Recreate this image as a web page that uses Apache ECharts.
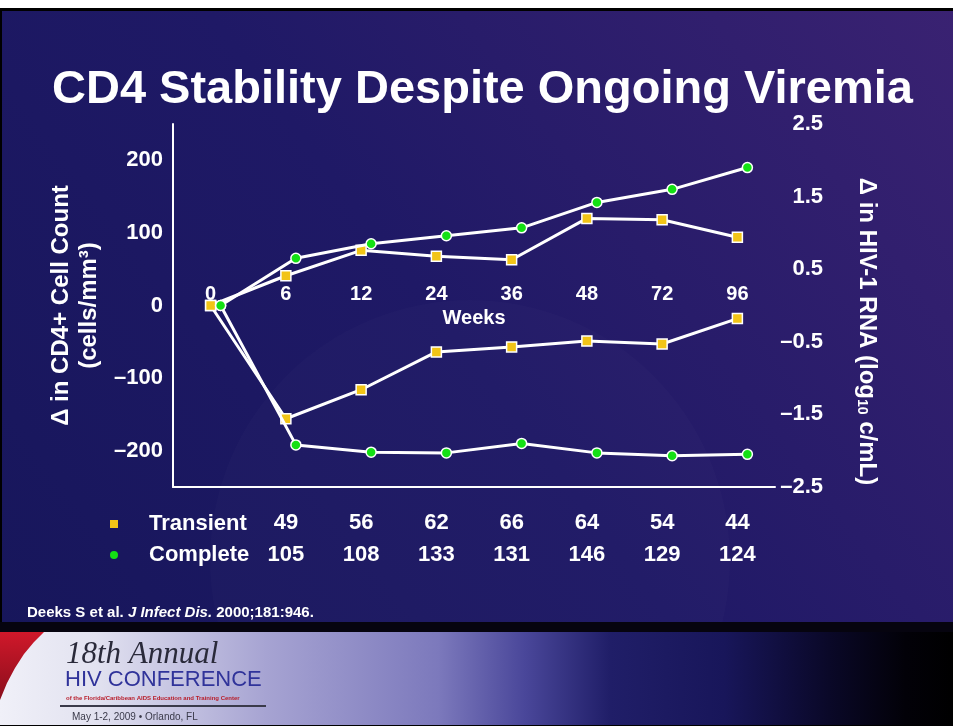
<!DOCTYPE html>
<html>
<head>
<meta charset="utf-8">
<script src="https://cdn.jsdelivr.net/npm/echarts@6/dist/echarts.min.js"></script>
<style>
  html, body { margin: 0; padding: 0; background: #ffffff; }
  #chart { width: 953px; height: 726px; }
</style>
</head>
<body>
<div id="chart"></div>
<script>
// Study visits (weeks) shown on the category axis
const weeks = ['0', '6', '12', '24', '36', '48', '72', '96'];

// Change in CD4+ cell count (cells/mm3), left axis
const transientCD4 = [0, 41, 76, 68, 63, 120, 118, 94];
const completeCD4  = [0, 65, 85, 96, 107, 142, 160, 190];

// Change in HIV-1 RNA (log10 copies/mL), right axis
const transientRNA = [0, -1.56, -1.16, -0.64, -0.57, -0.49, -0.53, -0.18];
const completeRNA  = [0, -1.92, -2.02, -2.03, -1.90, -2.03, -2.07, -2.05];

// Patients evaluated at each visit after baseline
const transientN = [49, 56, 62, 66, 64, 54, 44];
const completeN  = [105, 108, 133, 131, 146, 129, 124];

const FONT = "'Liberation Sans', Arial, Helvetica, sans-serif";
const WHITE = '#ffffff';
const YELLOW = '#f2c417';
const GREEN = '#14e014';

const dash = '\u2013';
function fmtCount(v) {
  if (v % 100 !== 0) return '';
  return v < 0 ? dash + Math.abs(v) : String(v);
}
function fmtLog(v) {
  const k = Math.round(v * 2);
  if (Math.abs(k) % 2 !== 1) return '';
  return v < 0 ? dash + Math.abs(v).toFixed(1) : v.toFixed(1);
}

const GRID_TOP = 124, GRID_H = 363, GRID_LEFT = 173, GRID_W = 602;
// the week labels ride on the zero line, half-way up the plot
const ZERO_SHIFT = -GRID_H / 2;

const chart = echarts.init(document.getElementById('chart'), null, { renderer: 'canvas' });

const option = {
  animation: false,
  title: {
    text: 'CD4 Stability Despite Ongoing Viremia',
    left: 47,
    top: 62,
    textStyle: { color: WHITE, fontFamily: FONT, fontWeight: 'bold', fontSize: 47 }
  },
  legend: {
    orient: 'vertical',
    left: 105,
    top: 507,
    itemWidth: 8,
    itemHeight: 8,
    itemGap: 7,
    selectedMode: false,
    data: [{ name: 'Transient', icon: 'rect' }, { name: 'Complete', icon: 'circle' }],
    itemStyle: { borderWidth: 0 },
    textStyle: {
      color: WHITE, fontFamily: FONT, fontWeight: 'bold', fontSize: 22,
      lineHeight: 24, padding: [0, 0, 0, 26]
    }
  },
  grid: [
    { left: GRID_LEFT, top: GRID_TOP, width: GRID_W, height: GRID_H, containLabel: false },
    { left: GRID_LEFT + 10, top: GRID_TOP, width: GRID_W, height: GRID_H, containLabel: false }
  ],
  xAxis: [
    { // week labels sitting on the zero line
      gridIndex: 0, type: 'category', data: weeks, position: 'bottom', offset: ZERO_SHIFT,
      axisLine: { show: false, onZero: false },
      axisTick: { show: false },
      axisLabel: {
        inside: true, margin: 1, color: WHITE, fontFamily: FONT,
        fontWeight: 'bold', fontSize: 20
      },
      name: 'Weeks', nameLocation: 'middle', nameGap: 3,
      nameTextStyle: { color: WHITE, fontFamily: FONT, fontWeight: 'bold', fontSize: 20 },
      splitLine: { show: false }
    },
    { // baseline of the plot frame
      gridIndex: 0, type: 'category', data: weeks, position: 'bottom',
      axisLine: { show: true, onZero: false, lineStyle: { color: WHITE, width: 2 } },
      axisTick: { show: false }, axisLabel: { show: false }, splitLine: { show: false }
    },
    { // patient counts, transient group
      gridIndex: 0, type: 'category', data: [''].concat(transientN.map(String)), position: 'bottom',
      axisLine: { show: false, onZero: false }, axisTick: { show: false }, splitLine: { show: false },
      axisLabel: { margin: 25, color: WHITE, fontFamily: FONT, fontWeight: 'bold', fontSize: 22, interval: 0 }
    },
    { // patient counts, complete group
      gridIndex: 0, type: 'category', data: [''].concat(completeN.map(String)), position: 'bottom',
      axisLine: { show: false, onZero: false }, axisTick: { show: false }, splitLine: { show: false },
      axisLabel: { margin: 57, color: WHITE, fontFamily: FONT, fontWeight: 'bold', fontSize: 22, interval: 0 }
    },
    { // companion axis for the complete-suppression series
      gridIndex: 1, type: 'category', data: weeks, show: false
    }
  ],
  yAxis: [
    {
      gridIndex: 0, type: 'value', position: 'left', min: -250, max: 250, interval: 50,
      axisLine: { show: true, lineStyle: { color: WHITE, width: 2 } },
      axisTick: { show: false }, splitLine: { show: false },
      axisLabel: {
        formatter: fmtCount, margin: 10, color: WHITE, fontFamily: FONT,
        fontWeight: 'bold', fontSize: 22
      },
      name: '\u0394 in CD4+ Cell Count\n(cells/mm\u00b3)',
      nameLocation: 'middle', nameRotate: 90, nameGap: 69,
      nameTextStyle: {
        color: WHITE, fontFamily: FONT, fontWeight: 'bold', fontSize: 24, lineHeight: 28
      }
    },
    {
      gridIndex: 0, type: 'value', position: 'right', min: -2.5, max: 2.5, interval: 0.5,
      axisLine: { show: false }, axisTick: { show: false }, splitLine: { show: false },
      axisLabel: {
        formatter: fmtLog, margin: 48, align: 'right', color: WHITE, fontFamily: FONT,
        fontWeight: 'bold', fontSize: 22
      },
      name: '{t|\u0394 in HIV-1 RNA (log}{s|10}{t| c/mL)}',
      nameLocation: 'middle', nameRotate: -90, nameGap: 78,
      nameTextStyle: {
        color: WHITE, fontFamily: FONT, fontWeight: 'bold', fontSize: 24, lineHeight: 28,
        padding: [0, 0, 0, 52],
        rich: {
          t: { color: WHITE, fontFamily: FONT, fontWeight: 'bold', fontSize: 24, lineHeight: 28 },
          s: { color: WHITE, fontFamily: FONT, fontWeight: 'bold', fontSize: 14, lineHeight: 28, padding: [10, 0, 0, 0] }
        }
      }
    },
    { gridIndex: 1, type: 'value', min: -250, max: 250, show: false, splitLine: { show: false } },
    { gridIndex: 1, type: 'value', min: -2.5, max: 2.5, show: false, splitLine: { show: false } }
  ],
  series: [
    {
      name: 'Transient', type: 'line', xAxisIndex: 0, yAxisIndex: 0, data: transientCD4,
      symbol: 'rect', symbolSize: 10, showAllSymbol: true,
      lineStyle: { color: WHITE, width: 3 },
      itemStyle: { color: YELLOW, borderColor: WHITE, borderWidth: 1.5 }, z: 3
    },
    {
      name: 'Transient', type: 'line', xAxisIndex: 0, yAxisIndex: 1, data: transientRNA,
      symbol: 'rect', symbolSize: 10, showAllSymbol: true,
      lineStyle: { color: WHITE, width: 3 },
      itemStyle: { color: YELLOW, borderColor: WHITE, borderWidth: 1.5 }, z: 3
    },
    {
      name: 'Complete', type: 'line', xAxisIndex: 4, yAxisIndex: 2, data: completeCD4,
      symbol: 'circle', symbolSize: 10, showAllSymbol: true,
      lineStyle: { color: WHITE, width: 3 },
      itemStyle: { color: GREEN, borderColor: WHITE, borderWidth: 1.5 }, z: 4
    },
    {
      name: 'Complete', type: 'line', xAxisIndex: 4, yAxisIndex: 3, data: completeRNA,
      symbol: 'circle', symbolSize: 10, showAllSymbol: true,
      lineStyle: { color: WHITE, width: 3 },
      itemStyle: { color: GREEN, borderColor: WHITE, borderWidth: 1.5 }, z: 4
    }
  ],
  graphic: [
    // slide background
    {
      type: 'rect', z: -20, silent: true,
      shape: { x: 0, y: 0, width: 953, height: 726 },
      style: {
        fill: new echarts.graphic.LinearGradient(0, 1, 1, 0, [
          { offset: 0, color: '#16165a' },
          { offset: 0.5, color: '#1f1966' },
          { offset: 1, color: '#3a2272' }
        ])
      }
    },
    // soft background swirl
    {
      type: 'circle', z: -19, silent: true,
      shape: { cx: 470, cy: 560, r: 260 },
      style: { fill: 'rgba(255,255,255,0.015)' }
    },
    // top frame
    { type: 'rect', z: -5, silent: true, shape: { x: 0, y: 0, width: 953, height: 8 }, style: { fill: '#ffffff' } },
    { type: 'rect', z: -5, silent: true, shape: { x: 0, y: 8, width: 953, height: 3 }, style: { fill: '#000000' } },
    { type: 'rect', z: -5, silent: true, shape: { x: 0, y: 8, width: 2, height: 718 }, style: { fill: '#000000' } },
    // citation
    {
      type: 'text', z: 5, silent: true, x: 27, y: 613,
      style: {
        text: '{b|Deeks S et al. }{i|J Infect Dis.}{b| 2000;181:946.}',
        verticalAlign: 'middle',
        rich: {
          b: { fill: WHITE, fontFamily: FONT, fontWeight: 'bold', fontSize: 15 },
          i: { fill: WHITE, fontFamily: FONT, fontWeight: 'bold', fontStyle: 'italic', fontSize: 15 }
        }
      }
    },
    // footer banner
    { type: 'rect', z: -4, silent: true, shape: { x: 0, y: 622, width: 953, height: 10 }, style: { fill: '#06040f' } },
    {
      type: 'rect', z: -4, silent: true,
      shape: { x: 0, y: 632, width: 953, height: 93 },
      style: {
        fill: new echarts.graphic.LinearGradient(0, 0, 1, 0, [
          { offset: 0, color: '#f0f0f8' },
          { offset: 0.1, color: '#e2e2f0' },
          { offset: 0.28, color: '#a6a3d2' },
          { offset: 0.46, color: '#7c79bc' },
          { offset: 0.55, color: '#4a479a' },
          { offset: 0.64, color: '#201e68' },
          { offset: 0.76, color: '#18165a' },
          { offset: 0.87, color: '#0a0828' },
          { offset: 0.95, color: '#020108' },
          { offset: 1, color: '#000000' }
        ])
      }
    },
    { type: 'rect', z: -4, silent: true, shape: { x: 0, y: 725, width: 953, height: 1 }, style: { fill: '#000000' } },
    {
      type: 'polygon', z: -3, silent: true,
      shape: { points: [[0, 632], [44, 632], [34, 642], [24, 654], [15, 668], [7, 683], [0, 700]] },
      style: {
        fill: new echarts.graphic.LinearGradient(0, 0, 0, 1, [
          { offset: 0, color: '#d0182a' },
          { offset: 1, color: '#8a0e1c' }
        ])
      }
    },
    {
      type: 'text', z: 5, silent: true, x: 66, y: 655,
      style: {
        text: '18th Annual', verticalAlign: 'middle', fill: '#2a2a3a',
        fontFamily: "'Liberation Serif', 'DejaVu Serif', serif", fontStyle: 'italic', fontSize: 31
      }
    },
    {
      type: 'text', z: 5, silent: true, x: 65, y: 680,
      style: {
        text: 'HIV CONFERENCE', verticalAlign: 'middle', fill: '#30339a',
        fontFamily: FONT, fontSize: 22
      }
    },
    {
      type: 'text', z: 5, silent: true, x: 66, y: 698,
      style: {
        text: 'of the Florida/Caribbean AIDS Education and Training Center', verticalAlign: 'middle',
        fill: '#b81d2a', fontFamily: FONT, fontWeight: 'bold', fontSize: 6
      }
    },
    { type: 'rect', z: 5, silent: true, shape: { x: 60, y: 705, width: 206, height: 2 }, style: { fill: '#3a3a4a' } },
    {
      type: 'text', z: 5, silent: true, x: 72, y: 717,
      style: {
        text: 'May 1-2, 2009 \u2022 Orlando, FL', verticalAlign: 'middle', fill: '#3a3a4a',
        fontFamily: FONT, fontSize: 10
      }
    }
  ]
};

chart.setOption(option);
</script>
</body>
</html>
